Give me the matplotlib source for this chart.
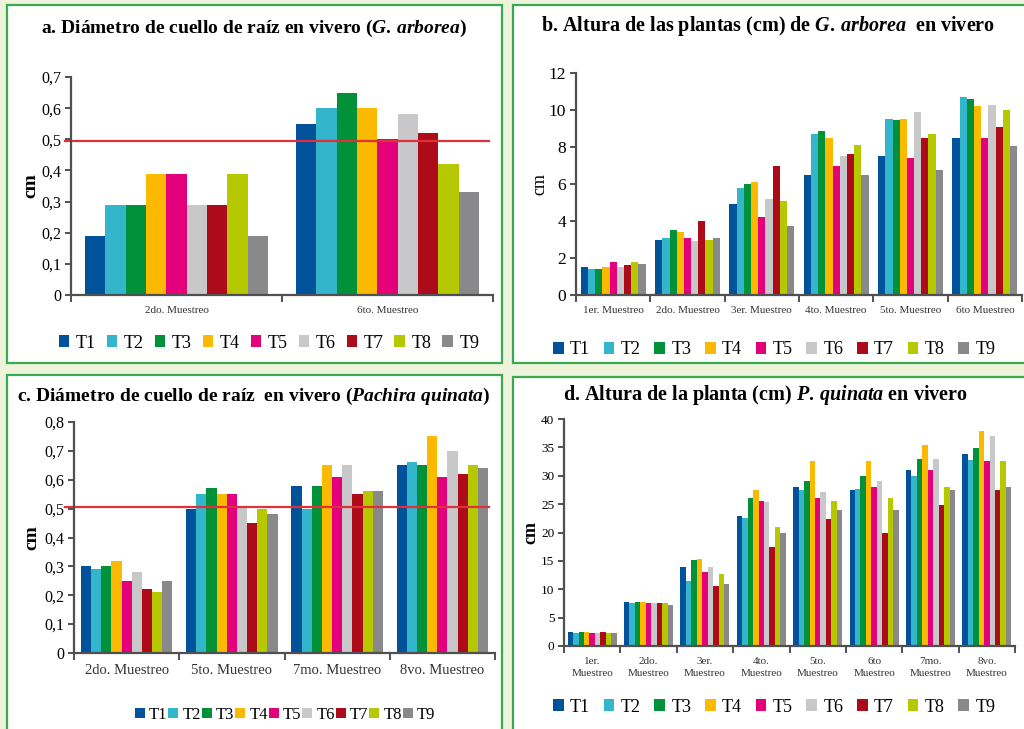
import matplotlib

matplotlib.use("Agg")
import matplotlib.pyplot as plt
import numpy as np
from matplotlib.patches import Rectangle

plt.rcParams["font.family"] = "Liberation Serif"
plt.rcParams["mathtext.fontset"] = "custom"
plt.rcParams["mathtext.rm"] = "Liberation Serif:bold"
plt.rcParams["mathtext.it"] = "Liberation Serif:italic:bold"

treatments = ["T1", "T2", "T3", "T4", "T5", "T6", "T7", "T8", "T9"]
colours = [
    "#00529b",
    "#33b5cb",
    "#009139",
    "#fbb900",
    "#e4007b",
    "#c8c8ca",
    "#ad0a1a",
    "#b5c800",
    "#89898b",
]

# a. root collar diameter, G. arborea
cats_a = ["2do. Muestreo", "6to. Muestreo"]
diam_arborea = [
    [0.19, 0.29, 0.29, 0.39, 0.39, 0.29, 0.29, 0.39, 0.19],
    [0.55, 0.60, 0.65, 0.60, 0.50, 0.58, 0.52, 0.42, 0.33],
]
ref_a = 0.495

# b. plant height, G. arborea
cats_b = [
    "1er. Muestreo",
    "2do. Muestreo",
    "3er. Muestreo",
    "4to. Muestreo",
    "5to. Muestreo",
    "6to Muestreo",
]
height_arborea = [
    [1.5, 1.4, 1.4, 1.5, 1.8, 1.5, 1.6, 1.8, 1.7],
    [3.0, 3.1, 3.5, 3.4, 3.1, 2.9, 4.0, 3.0, 3.1],
    [4.9, 5.8, 6.0, 6.1, 4.2, 5.2, 6.95, 5.1, 3.75],
    [6.5, 8.7, 8.85, 8.5, 7.0, 7.5, 7.6, 8.1, 6.5],
    [7.5, 9.5, 9.45, 9.5, 7.4, 9.9, 8.5, 8.7, 6.75],
    [8.5, 10.7, 10.6, 10.2, 8.5, 10.25, 9.1, 10.0, 8.05],
]

# c. root collar diameter, P. quinata
cats_c = ["2do. Muestreo", "5to. Muestreo", "7mo. Muestreo", "8vo. Muestreo"]
diam_quinata = [
    [0.30, 0.29, 0.30, 0.32, 0.25, 0.28, 0.22, 0.21, 0.25],
    [0.50, 0.55, 0.57, 0.55, 0.55, 0.51, 0.45, 0.50, 0.48],
    [0.58, 0.50, 0.58, 0.65, 0.61, 0.65, 0.55, 0.56, 0.56],
    [0.65, 0.66, 0.65, 0.75, 0.61, 0.70, 0.62, 0.65, 0.64],
]
ref_c = 0.505

# d. plant height, P. quinata
cats_d = [
    "1er.\nMuestreo",
    "2do.\nMuestreo",
    "3er.\nMuestreo",
    "4to.\nMuestreo",
    "5to.\nMuestreo",
    "6to\nMuestreo",
    "7mo.\nMuestreo",
    "8vo.\nMuestreo",
]
height_quinata = [
    [2.5, 2.3, 2.5, 2.5, 2.3, 2.3, 2.5, 2.3, 2.3],
    [7.7, 7.5, 7.7, 7.7, 7.5, 7.5, 7.5, 7.5, 7.3],
    [13.9, 11.5, 15.1, 15.3, 13.0, 13.9, 10.5, 12.6, 11.0],
    [22.9, 22.5, 26.0, 27.5, 25.5, 25.4, 17.4, 20.9, 20.0],
    [28.0, 27.5, 29.1, 32.6, 26.1, 27.1, 22.3, 25.5, 23.9],
    [27.5, 27.7, 29.9, 32.6, 28.0, 29.0, 20.0, 26.1, 23.9],
    [31.0, 29.9, 33.0, 35.5, 31.0, 33.0, 24.8, 28.0, 27.5],
    [33.9, 32.8, 34.9, 37.9, 32.6, 37.0, 27.5, 32.6, 28.0],
]

W, H = 1024, 729
BG = "#eef4dc"
BORDER = "#3aaa4e"


def box(x0, y0, x1, y1):
    # pixel box (top-left origin) -> figure fraction rect
    return [x0 / W, 1 - y1 / H, (x1 - x0) / W, (y1 - y0) / H]


def panel(fig, x0, y0, x1, y1):
    l, b, w, h = box(x0, y0, x1, y1)
    fig.patches.append(
        Rectangle(
            (l, b),
            w,
            h,
            transform=fig.transFigure,
            facecolor="white",
            edgecolor=BORDER,
            linewidth=1.6,
            zorder=-5,
        )
    )


def plotBars(ax, cats, values, ymax, ystep, yfmt, tickfs, catfs):
    n = len(cats)
    group = 0.87
    bw = group / len(treatments)
    xs = np.arange(n)
    for j, (name, colour) in enumerate(zip(treatments, colours)):
        vals = [row[j] for row in values]
        ax.bar(
            xs - group / 2 + bw * (j + 0.5),
            vals,
            width=bw,
            color=colour,
            label=name,
            linewidth=0,
        )
    ax.set_xlim(-0.5, n - 0.5)
    ax.set_ylim(0, ymax)
    yt = np.arange(0, ymax + ystep / 2, ystep)
    ax.set_yticks(yt)
    ax.set_yticklabels([yfmt(v) for v in yt], fontsize=tickfs)
    ax.set_xticks(np.arange(-0.5, n, 1.0))
    ax.set_xticklabels([])
    ax.set_xticks(xs, minor=True)
    ax.set_xticklabels(
        cats, minor=True, fontsize=catfs, color="#333333", linespacing=1.35
    )
    ax.tick_params(axis="x", which="minor", length=0, pad=8)
    ax.tick_params(axis="x", which="major", length=5, width=1.2, color="#333333")
    ax.tick_params(axis="y", length=4, width=1.2, color="#333333", pad=3)
    for s in ["top", "right"]:
        ax.spines[s].set_visible(False)
    for s in ["left", "bottom"]:
        ax.spines[s].set_color("#505050")
        ax.spines[s].set_linewidth(1.6)
    ax.set_facecolor("none")


def comma(v):
    return ("%.1f" % v).replace(".", ",") if v != 0 else "0"


def plain(v):
    return "%d" % v


def legend(fig, ax, cx, cy, fs, spacing, textpad=0.35):
    fig.legend(
        *ax.get_legend_handles_labels(),
        loc="center",
        bbox_to_anchor=(cx / W, 1 - cy / H),
        ncol=9,
        frameon=False,
        fontsize=fs,
        handlelength=0.6,
        handleheight=0.6,
        handletextpad=textpad,
        columnspacing=spacing,
        borderaxespad=0,
        borderpad=0,
    )


fig = plt.figure(figsize=(W / 100, H / 100), dpi=100, facecolor=BG)

panel(fig, 7, 5, 502, 363)
panel(fig, 513, 5, 1030, 363)
panel(fig, 7, 375, 502, 740)
panel(fig, 513, 377, 1030, 740)

# a
ax = fig.add_axes(box(71, 77, 493, 295))
plotBars(ax, cats_a, diam_arborea, 0.7, 0.1, comma, 11.5, 8)
ax.axhline(ref_a, xmin=-0.015, xmax=0.99, color="#e0303a", linewidth=1.6, clip_on=False)
ax.set_ylabel("cm", fontsize=14, fontweight="bold", labelpad=1.5)
fig.text(
    254 / W,
    1 - 28 / H,
    r"a. Diámetro de cuello de raíz en vivero $\mathit{(G.\,arborea)}$",
    ha="center",
    va="center",
    fontsize=14,
    fontweight="bold",
)
legend(fig, ax, 269, 343, 13, 0.6)

# b
ax = fig.add_axes(box(576, 73, 1022, 295))
plotBars(ax, cats_b, height_arborea, 12, 2, plain, 12.5, 8)
ax.set_ylabel("cm", fontsize=13, labelpad=0)
fig.text(
    768 / W,
    1 - 26 / H,
    r"b. Altura de las plantas (cm) de $\mathit{G.\,arborea}$  en vivero",
    ha="center",
    va="center",
    fontsize=14.5,
    fontweight="bold",
)
legend(fig, ax, 774, 350, 13, 0.75)

# c
ax = fig.add_axes(box(74, 422, 495, 653))
plotBars(ax, cats_c, diam_quinata, 0.8, 0.1, comma, 11.5, 10.5)
ax.axhline(ref_c, xmin=-0.021, xmax=0.986, color="#e0303a", linewidth=1.6, clip_on=False)
ax.set_ylabel("cm", fontsize=14, fontweight="bold", labelpad=2.5)
fig.text(
    254 / W,
    1 - 396 / H,
    r"c. Diámetro de cuello de raíz  en vivero $\mathit{(Pachira\ quinata)}$",
    ha="center",
    va="center",
    fontsize=14,
    fontweight="bold",
)
legend(fig, ax, 285, 715, 12, 0.05, 0.25)

# d
ax = fig.add_axes(box(564, 419, 1015, 646))
plotBars(ax, cats_d, height_quinata, 40, 5, plain, 9.5, 8)
ax.set_ylabel("cm", fontsize=13, fontweight="bold", labelpad=1)
fig.text(
    765 / W,
    1 - 395 / H,
    r"d. Altura de la planta (cm) $\mathit{P.\,quinata}$ en vivero",
    ha="center",
    va="center",
    fontsize=14.5,
    fontweight="bold",
)
legend(fig, ax, 774, 707, 13, 0.75)

fig.savefig("out.png", dpi=100, facecolor=BG)
